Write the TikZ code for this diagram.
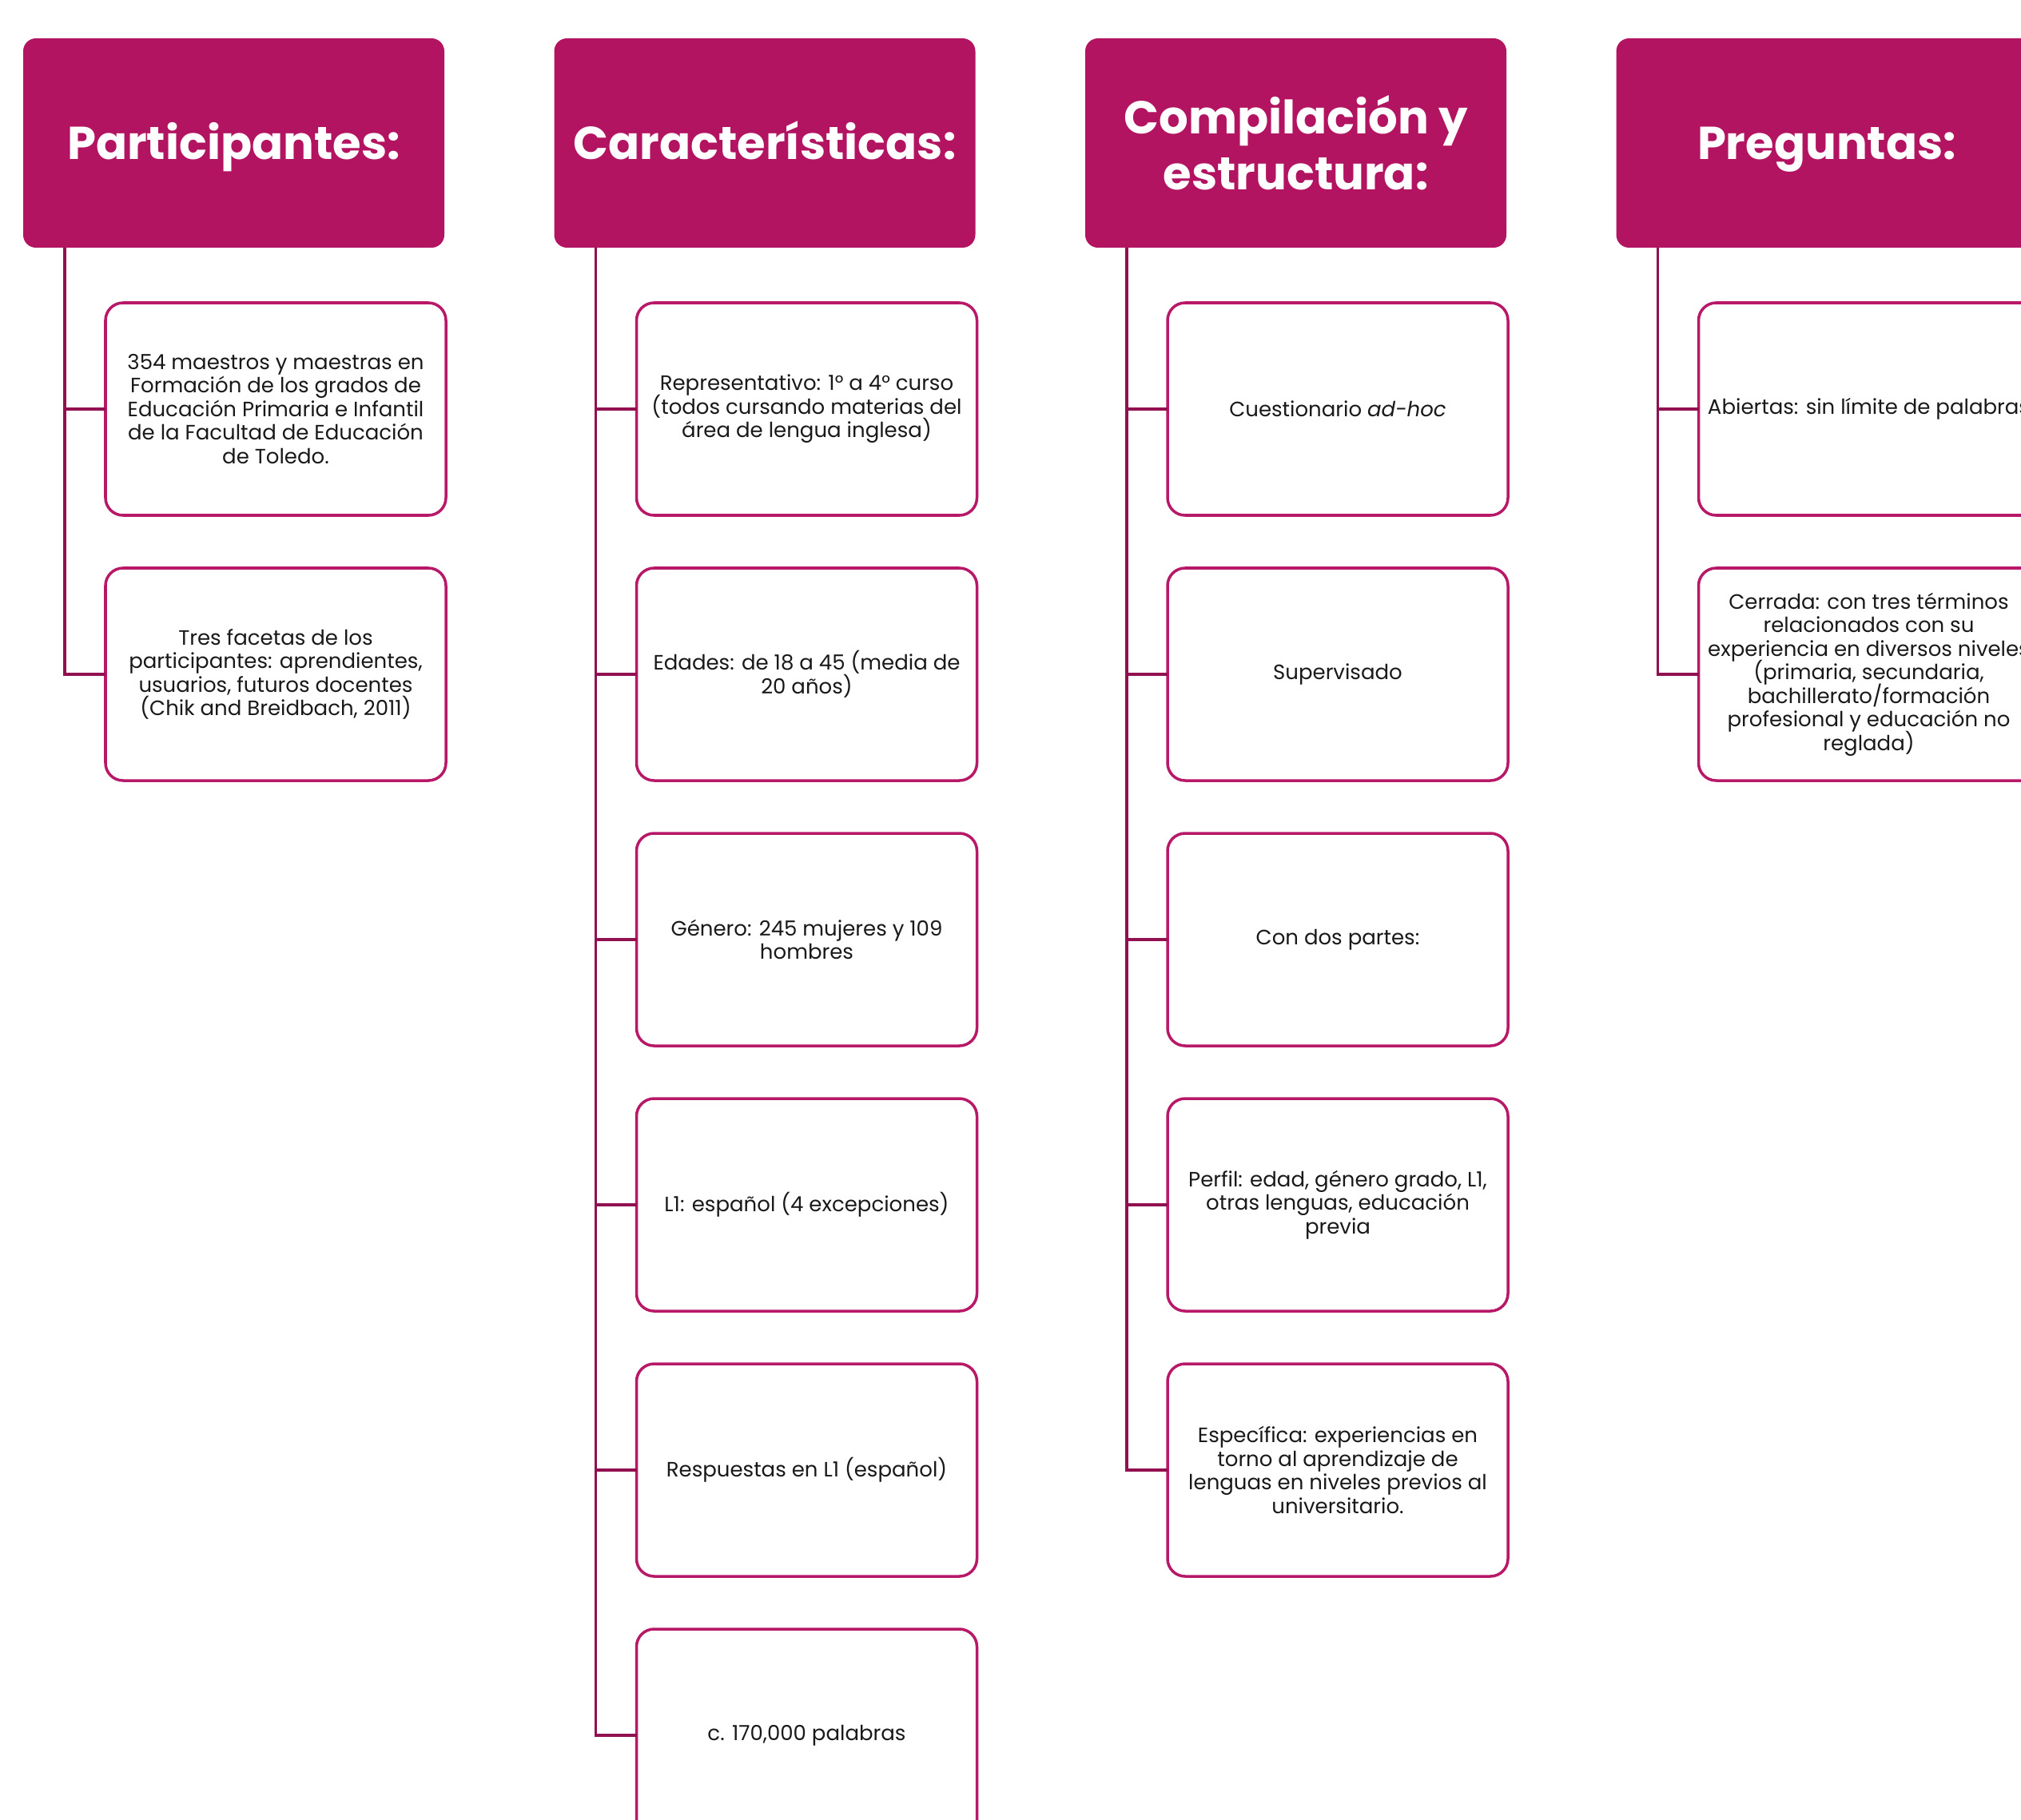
\documentclass[tikz,border=0pt]{standalone}
\usepackage{fontspec}
\setmainfont{Poppins}
\usetikzlibrary{positioning}

\definecolor{hdrfill}{RGB}{179,20,98}
\definecolor{boxline}{RGB}{184,24,104}
\definecolor{linkline}{RGB}{145,16,80}

\newcommand\tightlines{\lineskiplimit=-5pt\relax}

\tikzset{
    head/.style={rectangle, rounded corners=0.16cm, fill=hdrfill, text=white,
        minimum width=5.27cm, minimum height=2.62cm, align=center,
        inner sep=0pt, outer sep=0pt,
        font=\fontsize{16.4}{20}\selectfont\bfseries},
    oneline/.style={text height=14pt, text depth=2.5pt},
    item/.style={rectangle, rounded corners=0.22cm, draw=boxline, line width=1pt,
        fill=white, minimum width=4.26cm, minimum height=2.66cm, align=center,
        inner sep=0pt, outer sep=0pt, text=black!90,
        font=\fontsize{7.4}{8.4}\selectfont\tightlines},
    link/.style={draw=linkline, line width=0.9pt},
}

\begin{document}
\begin{tikzpicture}
        \useasboundingbox (0,0) rectangle (25.29,-22.78);
        \clip (0,0) rectangle (25.29,-22.78);

        % headers
        \node[head, oneline] (hdra) at (2.925,-1.79) {Participantes:};
        \node[head, oneline, right=1.375cm of hdra] (hdrb) {Características:};
        \node[head, right=1.375cm of hdrb] (hdrc) {Compilación y\\estructura:};
        \node[head, oneline, right=1.375cm of hdrc] (hdrd) {Preguntas:};

        % first column
        \node[item, below=0.69cm of hdra.south west, anchor=north west, xshift=1.03cm] (a1)
            {354 maestros y maestras en\\Formación de los grados de\\Educación Primaria e Infantil\\de la Facultad de Educación\\de Toledo.};
        \node[item, below=0.66cm of a1] (a2)
            {Tres facetas de los\\participantes: aprendientes,\\usuarios, futuros docentes\\(Chik and Breidbach, 2011)};

        % second column
        \node[item, below=0.69cm of hdrb.south west, anchor=north west, xshift=1.03cm] (b1)
            {Representativo: 1° a 4° curso\\(todos cursando materias del\\área de lengua inglesa)};
        \node[item, below=0.66cm of b1] (b2) {Edades: de 18 a 45 (media de\\20 años)};
        \node[item, below=0.66cm of b2] (b3) {Género: 245 mujeres y 109\\hombres};
        \node[item, below=0.66cm of b3] (b4) {L1: español (4 excepciones)};
        \node[item, below=0.66cm of b4] (b5) {Respuestas en L1 (español)};
        \node[item, below=0.66cm of b5] (b6) {c. 170,000 palabras};

        % third column
        \node[item, below=0.69cm of hdrc.south west, anchor=north west, xshift=1.03cm] (c1)
            {Cuestionario \textit{ad-hoc}};
        \node[item, below=0.66cm of c1] (c2) {Supervisado};
        \node[item, below=0.66cm of c2] (c3) {Con dos partes:};
        \node[item, below=0.66cm of c3] (c4)
            {Perfil: edad, género grado, L1,\\otras lenguas, educación\\previa};
        \node[item, below=0.66cm of c4] (c5)
            {Específica: experiencias en\\torno al aprendizaje de\\lenguas en niveles previos al\\universitario.};

        % fourth column
        \node[item, below=0.69cm of hdrd.south west, anchor=north west, xshift=1.03cm] (d1)
            {Abiertas: sin límite de palabras};
        \node[item, below=0.66cm of d1] (d2)
            {Cerrada: con tres términos\\relacionados con su\\experiencia en diversos niveles\\(primaria, secundaria,\\bachillerato/formación\\profesional y educación no\\reglada)};

        % trunks
        \coordinate[right=0.52cm of hdra.south west] (ta);
        \coordinate[right=0.52cm of hdrb.south west] (tb);
        \coordinate[right=0.52cm of hdrc.south west] (tc);
        \coordinate[right=0.52cm of hdrd.south west] (td);

        \draw[link] (ta) |- (a1.west);
        \draw[link] (ta) |- (a2.west);

        \draw[link] (tb) |- (b1.west);
        \draw[link] (tb) |- (b2.west);
        \draw[link] (tb) |- (b3.west);
        \draw[link] (tb) |- (b4.west);
        \draw[link] (tb) |- (b5.west);
        \draw[link] (tb) |- (b6.west);

        \draw[link] (tc) |- (c1.west);
        \draw[link] (tc) |- (c2.west);
        \draw[link] (tc) |- (c3.west);
        \draw[link] (tc) |- (c4.west);
        \draw[link] (tc) |- (c5.west);

        \draw[link] (td) |- (d1.west);
        \draw[link] (td) |- (d2.west);
    \end{tikzpicture}
\end{document}
